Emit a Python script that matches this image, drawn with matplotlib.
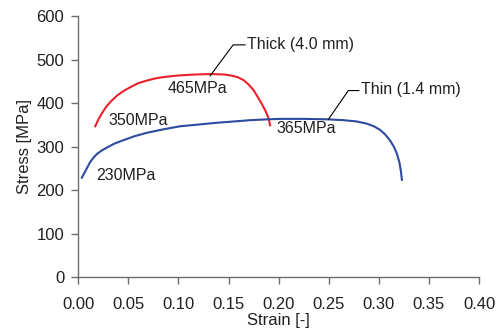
import matplotlib
matplotlib.use("Agg")
import matplotlib.pyplot as plt

plt.rcParams['font.family'] = ['Liberation Sans', 'DejaVu Sans']

# Thin specimen (1.4 mm): strain / stress [MPa]
thin_strain = [0.0037, 0.006, 0.009, 0.012, 0.0153, 0.019, 0.024, 0.0286, 0.036,
               0.045, 0.056, 0.0685, 0.085, 0.1017, 0.12, 0.138, 0.155, 0.1716,
               0.19, 0.2015, 0.225, 0.248, 0.265, 0.278, 0.288, 0.295, 0.301,
               0.306, 0.311, 0.315, 0.318, 0.3205, 0.322, 0.323]
thin_stress = [229, 239, 252, 265, 275, 284, 292, 298, 307,
               315, 324, 332, 340, 347, 351, 355, 358, 361,
               363, 364, 364, 363, 361, 358, 353, 347, 339,
               329, 315, 300, 284, 264, 244, 224]

# Thick specimen (4.0 mm)
thick_strain = [0.017, 0.020, 0.024, 0.028, 0.033, 0.039, 0.046, 0.053, 0.060,
                0.0685, 0.077, 0.085, 0.093, 0.1017, 0.118, 0.133, 0.145, 0.1516,
                0.159, 0.165, 0.170, 0.175, 0.179, 0.183, 0.187, 0.190, 0.1915]
thick_stress = [347, 362, 378, 392, 405, 418, 429, 438, 446,
                452, 457, 460, 462, 464, 466, 467, 466, 464,
                460, 453, 443, 430, 415, 399, 382, 365, 349]

# stress labels: (text, x, y)
stress_labels = [("465MPa", 0.089, 434), ("350MPa", 0.0302, 361),
                 ("230MPa", 0.0178, 234), ("365MPa", 0.198, 342)]

xticks = [0.00, 0.05, 0.10, 0.15, 0.20, 0.25, 0.30, 0.35, 0.40]
yticks = [0, 100, 200, 300, 400, 500, 600]

fig = plt.figure(figsize=(4.98, 3.29), dpi=100)
ax = fig.add_axes([0.157, 0.157, 0.805, 0.794])

ax.plot(thick_strain, thick_stress, color='#e8212b', lw=1.5)
ax.plot(thin_strain, thin_stress, color='#2b4aa0', lw=1.5)

txt_color = '#231f20'
for label, x, y in stress_labels:
    ax.text(x, y, label, fontsize=11.5, color=txt_color, ha='left', va='center')

# leader lines to the curve names
ax.plot([0.1317, 0.1546, 0.1665], [463, 534, 534], color='k', lw=0.8)
ax.text(0.168, 534, "Thick (4.0 mm)", fontsize=11.5, color=txt_color, va='center')
ax.plot([0.2497, 0.2695, 0.2800], [363, 429, 429], color='k', lw=0.8)
ax.text(0.2825, 432, "Thin (1.4 mm)", fontsize=11.5, color=txt_color, va='center')

ax.set_xlim(0, 0.40)
ax.set_ylim(0, 600)
ax.set_xticks(xticks)
ax.set_xticklabels([f"{t:.2f}" for t in xticks])
ax.set_yticks(yticks)

for s in ['top', 'right']:
    ax.spines[s].set_visible(False)
for s in ['left', 'bottom']:
    ax.spines[s].set_color('#6d6d6d')
    ax.spines[s].set_linewidth(1.0)
ax.tick_params(direction='out', length=5, width=1.0, color='#6d6d6d',
               labelsize=12, labelcolor=txt_color)
ax.tick_params(axis='x', pad=9)
ax.tick_params(axis='y', pad=5)

ax.set_xlabel("Strain [-]", fontsize=12, color=txt_color, labelpad=1)
ax.set_ylabel("Stress [MPa]", fontsize=12, color=txt_color, labelpad=3)

fig.savefig("out.png", dpi=100)
